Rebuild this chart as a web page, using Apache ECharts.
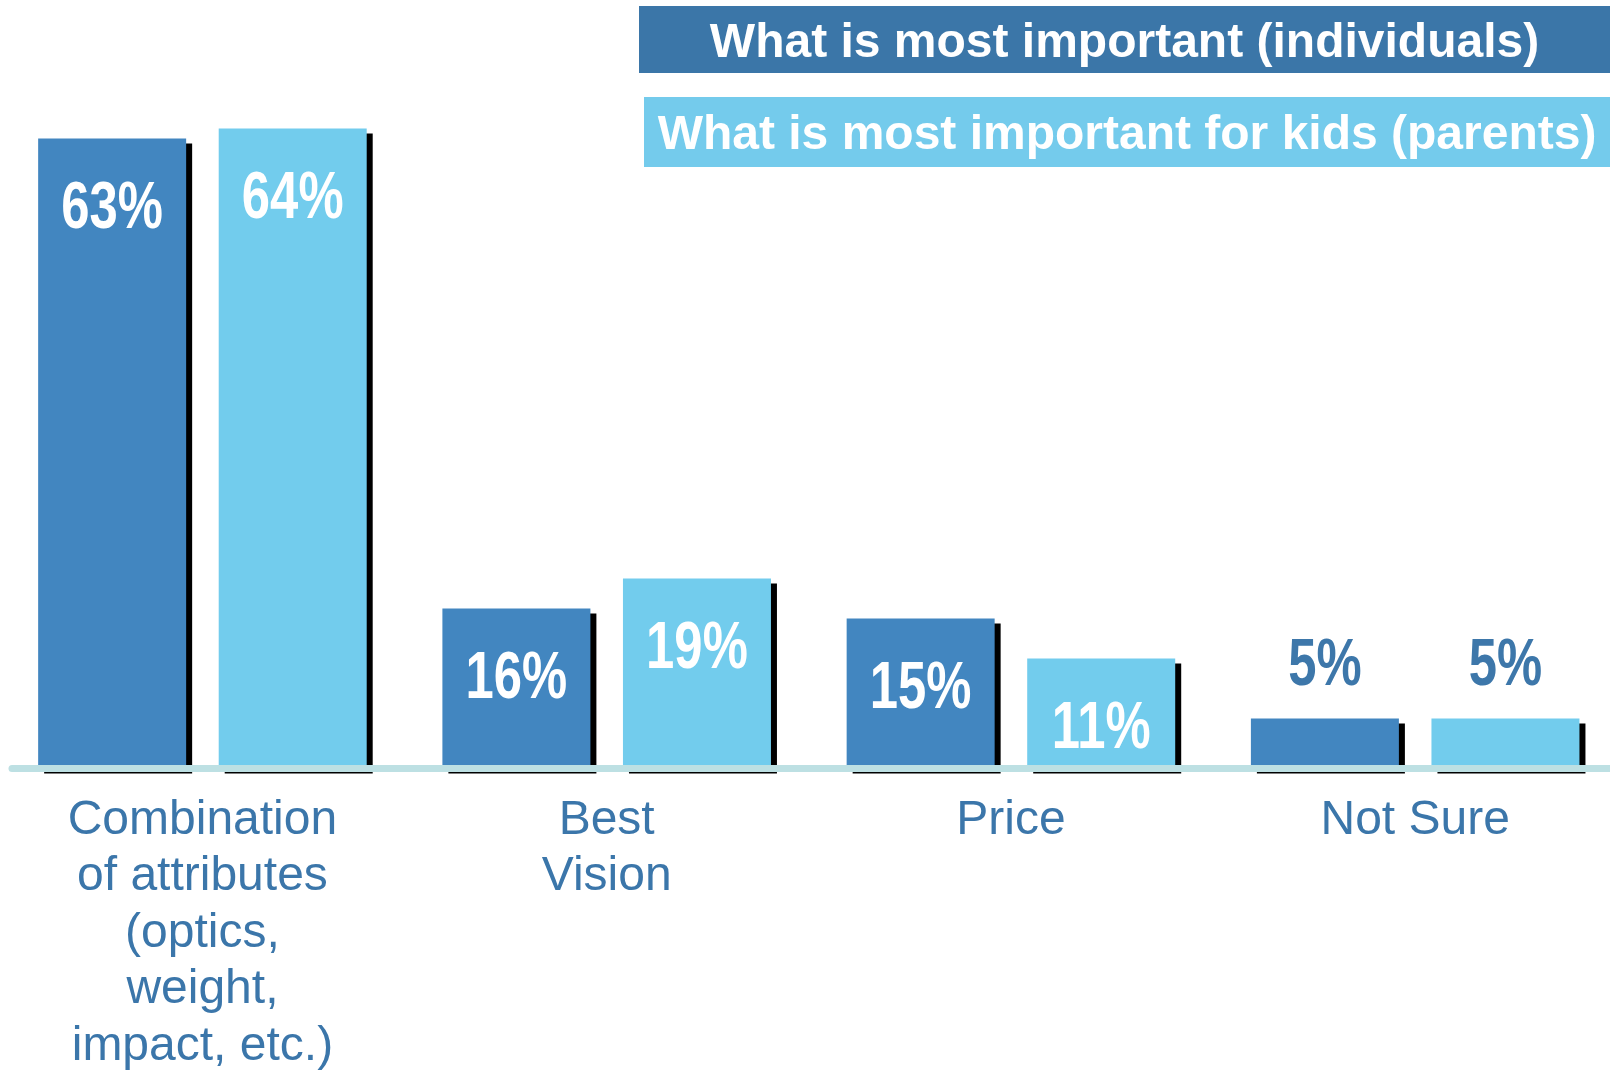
<!DOCTYPE html>
<html>
<head>
<meta charset="utf-8">
<script src="https://cdn.jsdelivr.net/npm/echarts@6/dist/echarts.min.js"></script>
<style>
  html, body { margin: 0; padding: 0; background: #fff; }
  #main { width: 1610px; height: 1072px; }
</style>
</head>
<body>
<div id="main"></div>
<script>
const categories = [
  "Combination\nof attributes\n(optics,\nweight,\nimpact, etc.)",
  "Best\nVision",
  "Price",
  "Not Sure"
];
const seriesNames = [
  "What is most important (individuals)",
  "What is most important for kids (parents)"
];
const individuals = [63, 16, 15, 5];
const parents = [64, 19, 11, 5];

const darkBar = "#4286c0";
const lightBar = "#72cced";
const labelBlue = "#3b76aa";
const BAR_W = 148;
const GAP = 0.22;

const chart = echarts.init(document.getElementById("main"));

const barSeries = (name, values, color) => ({
  name: name,
  type: "bar",
  xAxisIndex: 0,
  yAxisIndex: 0,
  barWidth: BAR_W,
  barGap: GAP * 100 + "%",
  data: values,
  itemStyle: {
    color: color,
    shadowColor: "#000",
    shadowBlur: 0,
    shadowOffsetX: 6,
    shadowOffsetY: 5
  }
});

// value labels: condensed bold text (arial narrow look), inside the bar
// near its top, or above it in blue when the bar is too short
const labelSeries = (values, side) => ({
  type: "custom",
  xAxisIndex: 0,
  yAxisIndex: 0,
  z: 5,
  silent: true,
  data: values.map((v, i) => [i, v]),
  renderItem: (params, api) => {
    const v = api.value(1);
    const pt = api.coord([api.value(0), v]);
    const small = v < 10;
    return {
      type: "text",
      x: pt[0] + side * (BAR_W * (1 + GAP)) / 2,
      y: small ? pt[1] - 52 : pt[1] + 71,
      scaleX: 0.77,
      style: {
        text: v + "%",
        fill: small ? "#3d77aa" : "#fff",
        font: "bold 66px 'Liberation Sans', Arial",
        align: "center",
        verticalAlign: "middle"
      }
    };
  }
});

const legendBox = (i, color, x, y, h) => ({
  type: "group",
  children: [
    {
      type: "rect",
      shape: { x: x, y: y, width: 1610 - x, height: h },
      style: { fill: color }
    },
    {
      type: "text",
      x: (x + 1610) / 2,
      y: y + h / 2 + 4,
      style: {
        text: seriesNames[i],
        fill: "#fff",
        font: "bold 48px 'Liberation Sans', Arial",
        align: "center",
        verticalAlign: "middle"
      }
    }
  ]
});

const option = {
  animation: false,
  grid: [
    { left: 0.3, width: 1617, top: 68.5, bottom: 303.5, outerBoundsMode: "none" },
    { left: 12, right: 0, top: 68.5, bottom: 303.5, outerBoundsMode: "none" }
  ],
  xAxis: [
    {
      type: "category",
      gridIndex: 0,
      data: categories,
      axisLine: { show: false },
      axisTick: { show: false },
      axisLabel: {
        interval: 0,
        margin: 24,
        color: labelBlue,
        fontFamily: "'Liberation Sans', Arial",
        fontSize: 48,
        lineHeight: 56.5
      }
    },
    {
      // baseline drawn over the bar bottoms
      type: "value",
      gridIndex: 1,
      z: 10,
      axisLine: { show: true, lineStyle: { color: "#bde0e3", width: 7 } },
      axisTick: { show: false },
      axisLabel: { show: false },
      splitLine: { show: false }
    }
  ],
  yAxis: [
    { type: "value", gridIndex: 0, min: 0, max: 70, show: false },
    { type: "value", gridIndex: 1, show: false }
  ],
  graphic: [
    legendBox(0, "#3b76a8", 639, 6, 67),
    legendBox(1, "#74cbec", 644, 97, 70)
  ],
  series: [
    barSeries(seriesNames[0], individuals, darkBar),
    barSeries(seriesNames[1], parents, lightBar),
    labelSeries(individuals, -1),
    labelSeries(parents, 1)
  ]
};

chart.setOption(option);
</script>
</body>
</html>
